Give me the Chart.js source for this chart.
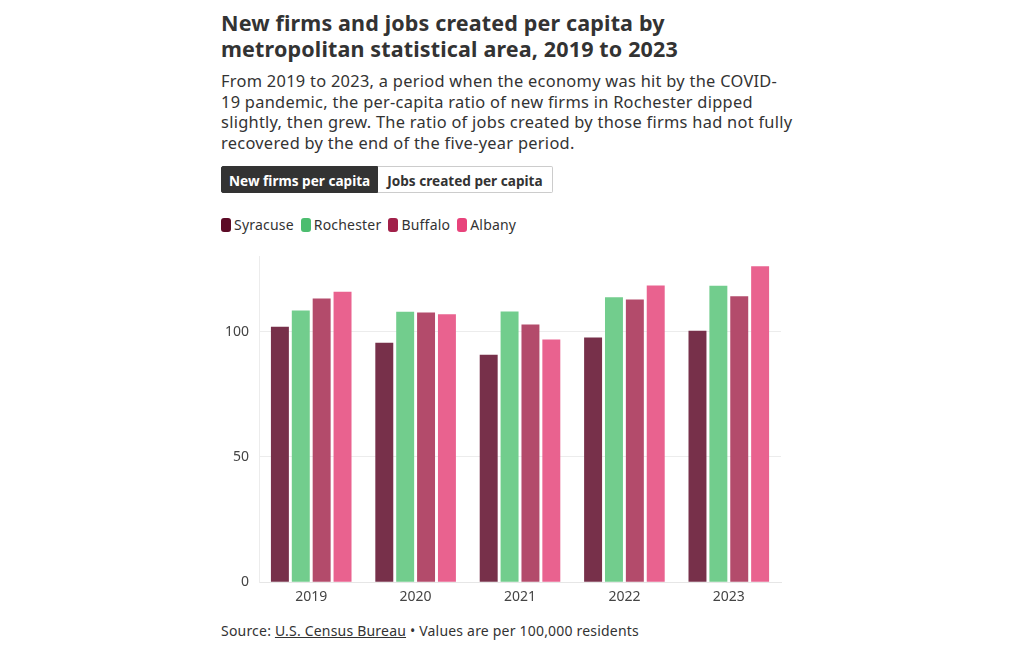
<!DOCTYPE html>
<html>
<head>
<meta charset="utf-8">
<script src="https://cdn.jsdelivr.net/npm/chart.js@4"></script>
<style>
  html, body { margin: 0; padding: 0; background: #fff; }
  body { font-family: "Noto Sans", "Open Sans", sans-serif; color: #333; }
  .wrap { position: absolute; left: 221px; top: 10px; width: 600px; }
  h1 { font-size: 21.5px; line-height: 26px; font-weight: 700; margin: 0; color: #333; letter-spacing: 0.15px; width: 560px; }
  .sub { font-size: 16.4px; line-height: 20.7px; margin: 9px 0 0 0; color: #333; letter-spacing: 0.28px; white-space: nowrap; }
  .btns { position: absolute; top: 156px; left: 0; display: flex; }
  .btn { height: 27px; line-height: 27px; font-size: 13.6px; font-weight: 700; padding: 0 7px; box-sizing: border-box; border: 1px solid #ccc; }
  .btn.on { background: #333; color: #fff; border-color: #333; border-radius: 2px 0 0 2px; }
  .btn.off { background: #fff; color: #333; border-left: none; border-radius: 0 2px 2px 0; padding: 0 9px 0 9px; }
  .legend { position: absolute; top: 205px; left: 0; display: flex; font-size: 14px; color: #333; letter-spacing: 0.2px; }
  .legend span.item { display: flex; align-items: center; margin-right: 7px; }
  .legend i { display: inline-block; width: 10px; height: 14px; border-radius: 3px; margin-right: 3px; }
  .chartbox { position: absolute; left: 215px; top: 238px; width: 580px; height: 369px; }
  .src { position: absolute; top: 621px; left: 221px; font-size: 14px; color: #333; letter-spacing: 0.2px; }
  .src u { text-decoration: underline; }
</style>
</head>
<body>
<div class="wrap">
  <h1>New firms and jobs created per capita by metropolitan statistical area, 2019 to 2023</h1>
  <p class="sub">From 2019 to 2023, a period when the economy was hit by the COVID-<br>19 pandemic, the per-capita ratio of new firms in Rochester dipped<br>slightly, then grew. The ratio of jobs created by those firms had not fully<br>recovered by the end of the five-year period.</p>
  <div class="btns"><div class="btn on">New firms per capita</div><div class="btn off">Jobs created per capita</div></div>
  <div class="legend" id="legend"></div>
</div>
<div class="chartbox"><canvas id="c"></canvas></div>
<div class="src">Source: <u>U.S. Census Bureau</u> • Values are per 100,000 residents</div>
<script>
const years = ["2019", "2020", "2021", "2022", "2023"];
const seriesNames = ["Syracuse", "Rochester", "Buffalo", "Albany"];
const syracuse = [101.9, 95.5, 90.8, 97.6, 100.3];
const rochester = [108.4, 107.9, 108.0, 113.7, 118.3];
const buffalo = [113.2, 107.6, 102.8, 112.8, 114.1];
const albany = [115.9, 106.9, 96.8, 118.4, 126.1];
const yTicks = [0, 50, 100];

const swatchColors = ["#5c0a25", "#4cbd6f", "#a12049", "#e8437b"];
const barColors = ["#77304a", "#72cd8d", "#b34b6b", "#e9628f"];
const values = [syracuse, rochester, buffalo, albany];

const leg = document.getElementById('legend');
seriesNames.forEach((n, i) => {
  const s = document.createElement('span');
  s.className = 'item';
  s.innerHTML = '<i style="background:' + swatchColors[i] + '"></i>' + n;
  leg.appendChild(s);
});

new Chart(document.getElementById('c'), {
  type: 'bar',
  data: {
    labels: years,
    datasets: seriesNames.map((n, i) => ({
      label: n,
      data: values[i],
      backgroundColor: barColors[i],
      borderWidth: 0,
      barPercentage: 0.86,
      categoryPercentage: 0.8
    }))
  },
  options: {
    responsive: true,
    maintainAspectRatio: false,
    animation: false,
    layout: { padding: { left: 0, right: 14, top: 6, bottom: 0 } },
    plugins: { legend: { display: false }, tooltip: { enabled: false } },
    scales: {
      x: {
        grid: { display: false, drawTicks: true, tickLength: 4 },
        border: { display: true, color: '#e6e6e6' },
        ticks: { color: '#444', font: { family: 'Noto Sans', size: 14 }, padding: 2 }
      },
      y: {
        min: 0, max: 130,
        afterBuildTicks: (axis) => { axis.ticks = yTicks.map(v => ({ value: v })); },
        grid: { color: '#ececec', drawTicks: false },
        border: { display: true, color: '#ececec' },
        ticks: { color: '#444', font: { family: 'Noto Sans', size: 14 }, padding: 10 }
      }
    }
  }
});
</script>
</body>
</html>
